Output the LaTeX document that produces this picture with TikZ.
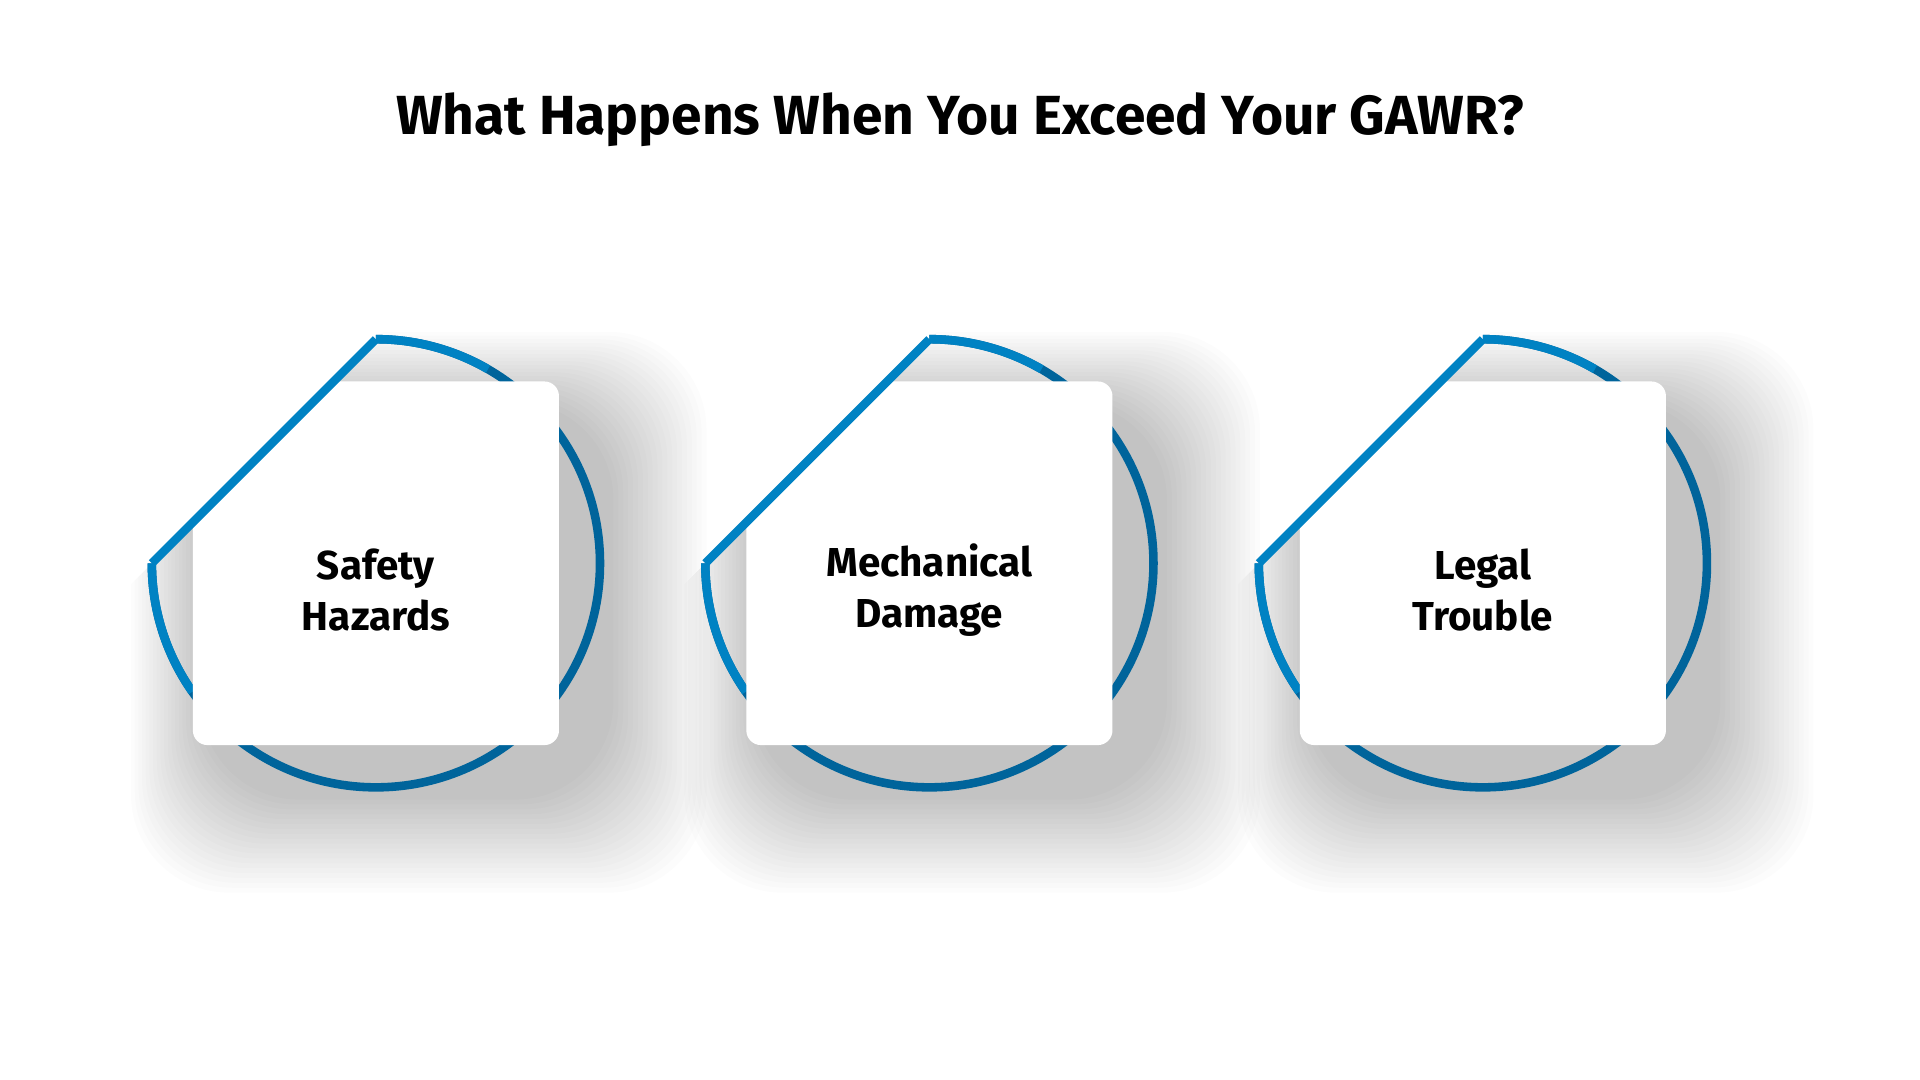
\documentclass[tikz,border=0pt]{standalone}
\usepackage{fontspec}
\setmainfont{Fira Sans}
\definecolor{blueA}{RGB}{0,130,195}
\definecolor{blueB}{RGB}{0,100,155}
\tikzset{
 ring/.style={line width=3.5pt,line join=miter},
 card/.style={fill=white,rounded corners=6pt},
 lbl/.style={font=\fontsize{16.5}{21}\selectfont\bfseries,align=center,text=black},
}
\begin{document}
\begin{tikzpicture}[x=0.5pt,y=-0.5pt]
\fill[white] (0,0) rectangle (1568,882);
\useasboundingbox (0,0) rectangle (1568,882);
\node[font=\fontsize{22.5}{26}\selectfont\bfseries] (title) at (784,98) {What Happens When You Exceed Your GAWR?};
\foreach \cx/\t/\n in {307/{Safety\\Hazards}/a,759/{Mechanical\\Damage}/b,1211/{Legal\\Trouble}/c}{
 \begin{scope}
  \clip (\cx-483,760) -- (\cx+117,160) -- (\cx+500,160) -- (\cx+500,900) -- (\cx-483,900) -- cycle;
  \foreach \k in {1,...,20}{
   \fill[black,opacity=0.011,rounded corners=40pt] (\cx-150+10-3*\k,311+20-3*\k) rectangle (\cx+150+40+4*\k,609+40+4*\k);
  }
 \end{scope}
 \draw[ring,blueB] (\cx,277) arc[start angle=270,end angle=540,radius=183];
 \draw[ring,blueA] (\cx,277) arc[start angle=270,end angle=300,radius=183];
 \draw[ring,blueA] (\cx-183,460) arc[start angle=180,end angle=145,radius=183];
 \begin{scope}
  \clip (\cx-483,760) -- (\cx+117,160) -- (\cx+500,160) -- (\cx+500,900) -- (\cx-483,900) -- cycle;
  \node[card,minimum width=149.5pt,minimum height=148.5pt,inner sep=0] (card\n) at (\cx,460) {};
 \end{scope}
 \draw[ring,blueA] (\cx-183,460) -- (\cx,277);
 \node[lbl] (t\n) at (\cx,482) {\t};
}
\end{tikzpicture}
\end{document}
